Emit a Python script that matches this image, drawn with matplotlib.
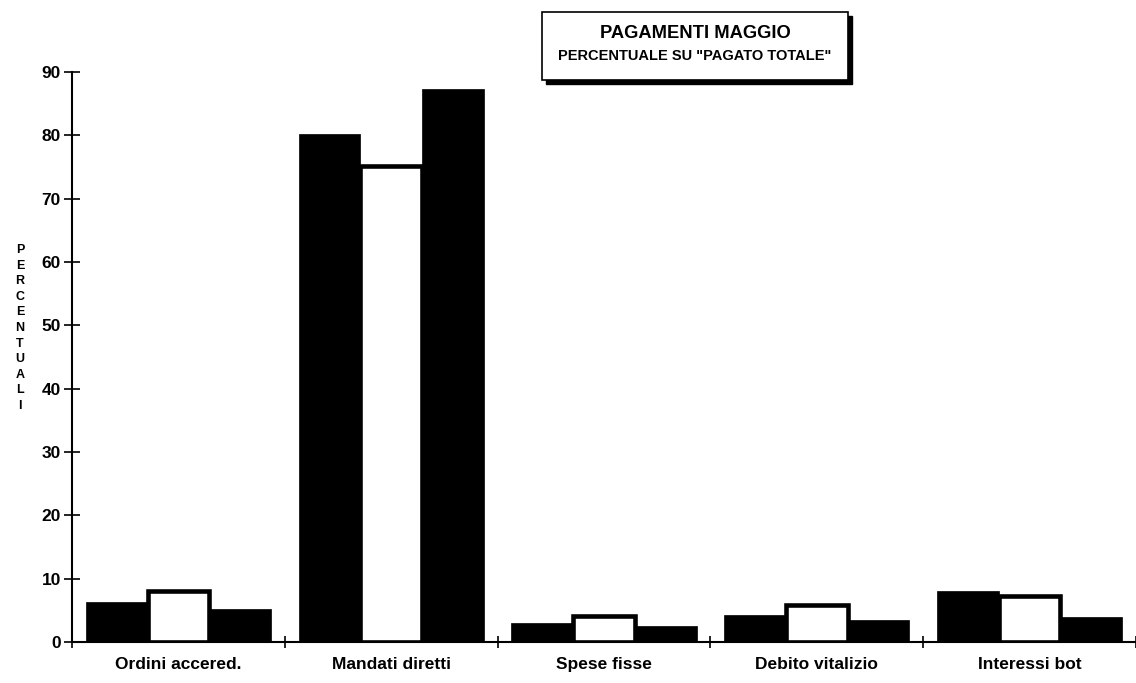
import matplotlib
matplotlib.use("Agg")
import matplotlib.pyplot as plt
import numpy as np
from matplotlib.patches import Rectangle

categories = ["Ordini accered.", "Mandati diretti", "Spese fisse", "Debito vitalizio", "Interessi bot"]
serie_1 = [6.3, 80.2, 3.0, 4.3, 8.1]
serie_2 = [8.0, 75.2, 4.1, 5.9, 7.3]
serie_3 = [5.2, 87.3, 2.45, 3.5, 3.9]
yticks = [0, 10, 20, 30, 40, 50, 60, 70, 80, 90]

plt.rcParams['font.family'] = ['Liberation Sans', 'DejaVu Sans']
plt.rcParams['font.weight'] = 'bold'

fig = plt.figure(figsize=(11.36, 6.83), dpi=100)
ax = fig.add_axes([72/1136, 1-642/683, 1-72/1136, (642-72)/683])

x = np.arange(len(categories)) + 0.5
w = 0.29
ax.bar(x - w, serie_1, width=w, color='black', edgecolor='black', linewidth=0.5, zorder=2)
ax.bar(x + w, serie_3, width=w, color='black', edgecolor='black', linewidth=0.5, zorder=2)
ax.bar(x, serie_2, width=w, color='white', edgecolor='black', linewidth=3.3, zorder=3)

ax.set_xlim(0, 5)
ax.set_ylim(0, 90)
ax.set_yticks(yticks)
ax.set_yticklabels([str(t) for t in yticks], fontsize=12.5, fontweight='bold')
ax.set_xticks(np.arange(0, 6))
ax.set_xticklabels([])
ax.set_xticks(x, minor=True)
ax.set_xticklabels(categories, minor=True)
ax.tick_params(axis='x', which='minor', length=0, pad=11, labelsize=12.5)
ax.tick_params(axis='x', which='major', direction='inout', length=9, width=1.2)
ax.tick_params(axis='y', direction='inout', length=12, width=1.2, pad=2)
for lbl in ax.get_xticklabels(minor=True):
    lbl.set_fontweight('bold')
    lbl.set_fontsize(12.5)

for s in ['top', 'right']:
    ax.spines[s].set_visible(False)
for s in ['left', 'bottom']:
    ax.spines[s].set_linewidth(1.5)
    ax.spines[s].set_zorder(4)
ax.spines['bottom'].set_position(('data', 0))

# vertical stacked y label
ylabel = "PERCENTUALI"
for i, ch in enumerate(ylabel):
    fig.text(20/1136, 1 - (250 + i*15.6)/683, ch, ha='center', va='center',
             fontsize=9, fontweight='bold')

# title box with shadow
bx0, by0, bx1, by1 = 542/1136, 1-80/683, 848/1136, 1-12/683
shadow = Rectangle((bx0 + 4/1136, by0 - 4/683), bx1 - bx0, by1 - by0,
                   transform=fig.transFigure, facecolor='black', edgecolor='black', zorder=5)
box = Rectangle((bx0, by0), bx1 - bx0, by1 - by0, transform=fig.transFigure,
                facecolor='white', edgecolor='black', linewidth=1.2, zorder=6)
fig.patches.extend([shadow, box])
fig.text((bx0 + bx1)/2, 1 - 33/683, "PAGAMENTI MAGGIO", ha='center', va='center',
         fontsize=13.2, fontweight='bold', zorder=7)
fig.text((bx0 + bx1)/2, 1 - 56/683, 'PERCENTUALE SU "PAGATO TOTALE"', ha='center', va='center',
         fontsize=10.5, fontweight='bold', zorder=7)

fig.savefig("out.png", dpi=100)
